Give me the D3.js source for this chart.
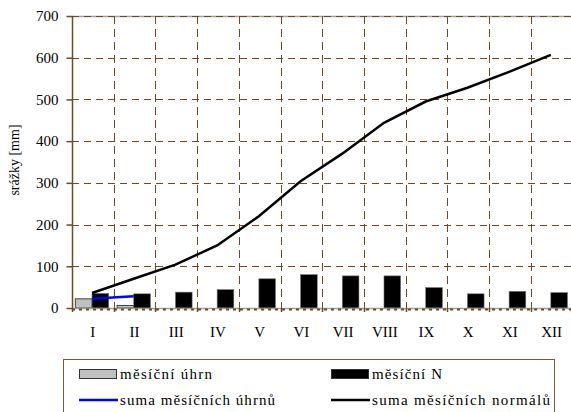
<!DOCTYPE html>
<html>
<head>
<meta charset="utf-8">
<script src="https://cdn.jsdelivr.net/npm/d3@7"></script>
<style>
  body { margin: 0; background: #fff; }
  svg text { font-family: "Liberation Serif", serif; }
</style>
</head>
<body>
<div class="chart"></div>
<script>
// months (Roman numerals)
var months = ["I", "II", "III", "IV", "V", "VI", "VII", "VIII", "IX", "X", "XI", "XII"];
// měsíční úhrn (only first two months)
var uhrn = [22, 6];
// měsíční N (normals)
var normal = [35, 34, 38, 44, 70, 80, 77, 77, 49, 34, 40, 37];
// suma měsíčních úhrnů
var sumaUhrn = [22, 28];
// suma měsíčních normálů
var sumaNormal = [36, 70, 104, 150, 220, 304, 370, 444, 495, 528, 566, 607];
var yTicks = [0, 100, 200, 300, 400, 500, 600, 700];

var W = 571, H = 412;
var plotL = 72, plotR = 572.5, plotT = 16, plotB = 308;
var brown = "#6b4a24";

var svg = d3.select(".chart")
            .append("svg")
            .attr("width", W)
            .attr("height", H)
            .style("display", "block");

/**
 * Scales
 */
var x = d3.scaleBand()
          .domain(months)
          .range([plotL, plotR]);

var x1 = d3.scaleBand()
           .domain(["uhrn", "N"])
           .range([0, x.bandwidth()])
           .paddingOuter(0.25)
           .align(0.4);

var y = d3.scaleLinear()
          .domain([0, 700])
          .range([plotB, plotT]);

/**
 * Grid
 */
svg.append("line")
   .attr("x1", plotL).attr("x2", W)
   .attr("y1", y(700) + 0.5).attr("y2", y(700) + 0.5)
   .attr("stroke", "#a8a098").attr("stroke-width", 1.5);

svg.append("g")
   .selectAll("line")
   .data(yTicks.filter(function(d) { return d > 0; }))
   .enter()
   .append("line")
   .attr("x1", plotL).attr("x2", W)
   .attr("y1", function(d) { return Math.round(y(d)) + 0.5; })
   .attr("y2", function(d) { return Math.round(y(d)) + 0.5; })
   .attr("stroke", brown)
   .attr("stroke-dasharray", "7,5");

svg.append("g")
   .selectAll("line")
   .data(months.slice(1))
   .enter()
   .append("line")
   .attr("x1", function(d) { return Math.round(x(d)) + 0.5; })
   .attr("x2", function(d) { return Math.round(x(d)) + 0.5; })
   .attr("y1", plotT).attr("y2", plotB)
   .attr("stroke", brown)
   .attr("stroke-dasharray", "8,5");

/**
 * Bars
 */
svg.append("g")
   .selectAll("rect")
   .data(uhrn)
   .enter()
   .append("rect")
   .attr("x", function(d, i) { return x(months[i]) + x1("uhrn"); })
   .attr("y", function(d) { return y(d); })
   .attr("width", x1.bandwidth())
   .attr("height", function(d) { return y(0) - y(d); })
   .attr("fill", "#c0c0c0")
   .attr("stroke", "#444")
   .attr("stroke-width", 1);

svg.append("g")
   .selectAll("rect")
   .data(normal)
   .enter()
   .append("rect")
   .attr("x", function(d, i) { return x(months[i]) + x1("N"); })
   .attr("y", function(d) { return y(d); })
   .attr("width", x1.bandwidth())
   .attr("height", function(d) { return y(0) - y(d); })
   .attr("fill", "#000")
   .attr("stroke", "#777")
   .attr("stroke-width", 0.6);

/**
 * Axes
 */
svg.append("line")
   .attr("x1", plotL).attr("x2", W)
   .attr("y1", plotB + 0.5).attr("y2", plotB + 0.5)
   .attr("stroke", "#a0a0a0").attr("stroke-width", 1.5);

svg.append("line")
   .attr("x1", plotL).attr("x2", W)
   .attr("y1", plotB + 1.5).attr("y2", plotB + 1.5)
   .attr("stroke", brown).attr("stroke-width", 2)
   .attr("stroke-dasharray", "3,4");

svg.append("g")
   .selectAll("line")
   .data(months)
   .enter()
   .append("line")
   .attr("x1", function(d) { return Math.round(x(d)) + 0.5; })
   .attr("x2", function(d) { return Math.round(x(d)) + 0.5; })
   .attr("y1", plotB).attr("y2", plotB + 4)
   .attr("stroke", brown).attr("stroke-width", 1.5);

var yAxis = d3.axisLeft(y)
              .tickValues(yTicks)
              .tickSize(6)
              .tickPadding(8);

var ya = svg.append("g")
            .attr("transform", "translate(" + (plotL + 0.5) + ",0)")
            .call(yAxis)
            .attr("font-family", null)
            .attr("font-size", null);
ya.select(".domain").attr("stroke", brown).attr("stroke-width", 1.5).attr("d", "M0," + plotT + "V" + plotB);
ya.selectAll(".tick line").attr("stroke", brown).attr("stroke-width", 1.5);
ya.selectAll(".tick text")
  .attr("fill", "#000")
  .style("font-size", "15px");

var xAxis = d3.axisBottom(x).tickSize(0).tickPadding(18);
var xa = svg.append("g")
            .attr("transform", "translate(0," + plotB + ")")
            .call(xAxis)
            .attr("font-family", null)
            .attr("font-size", null);
xa.select(".domain").remove();
xa.selectAll(".tick text")
  .attr("fill", "#000")
  .style("font-size", "15px");

svg.append("text")
   .attr("transform", "translate(19,160) rotate(-90)")
   .attr("text-anchor", "middle")
   .style("font-size", "14px")
   .text("srážky [mm]");

/**
 * Lines
 */
var line = d3.line()
             .x(function(d, i) { return x(months[i]) + x1("N"); })
             .y(function(d) { return y(d); });

svg.append("path")
   .datum(sumaNormal)
   .attr("d", line)
   .attr("fill", "none")
   .attr("stroke", "#000")
   .attr("stroke-width", 2.5);

svg.append("path")
   .datum(sumaUhrn)
   .attr("d", line)
   .attr("fill", "none")
   .attr("stroke", "#0000ff")
   .attr("stroke-width", 2.5);

/**
 * Legend
 */
var lg = svg.append("g");
lg.append("rect")
  .attr("x", 63.5).attr("y", 359.5)
  .attr("width", 491).attr("height", 70)
  .attr("fill", "#fff")
  .attr("stroke", "#7b5a3c");

var legendItems = [
  { label: "měsíční úhrn", type: "rect", fill: "#c0c0c0", col: 0, row: 0, len: 92 },
  { label: "měsíční N", type: "rect", fill: "#000", col: 1, row: 0, len: 70 },
  { label: "suma měsíčních úhrnů", type: "line", fill: "#0000ff", col: 0, row: 1, len: 155 },
  { label: "suma měsíčních normálů", type: "line", fill: "#000", col: 1, row: 1, len: 178 }
];

var items = lg.selectAll(".item")
              .data(legendItems)
              .enter()
              .append("g")
              .attr("class", "item")
              .attr("transform", function(d) {
                return "translate(" + (d.col ? 331 : 79) + "," + (d.row ? 400 : 374) + ")";
              });

items.filter(function(d) { return d.type === "rect"; })
     .append("rect")
     .attr("x", 0.5).attr("y", -4.5)
     .attr("width", 37).attr("height", 9)
     .attr("fill", function(d) { return d.fill; })
     .attr("stroke", "#333");

items.filter(function(d) { return d.type === "line"; })
     .append("line")
     .attr("x1", 0).attr("x2", 39)
     .attr("y1", 0).attr("y2", 0)
     .attr("stroke", function(d) { return d.fill; })
     .attr("stroke-width", 2.5);

items.append("text")
     .attr("x", 41)
     .attr("y", 4.5)
     .attr("textLength", function(d) { return d.len; })
     .attr("lengthAdjust", "spacing")
     .style("font-size", "15px")
     .text(function(d) { return d.label; });
</script>
</body>
</html>
